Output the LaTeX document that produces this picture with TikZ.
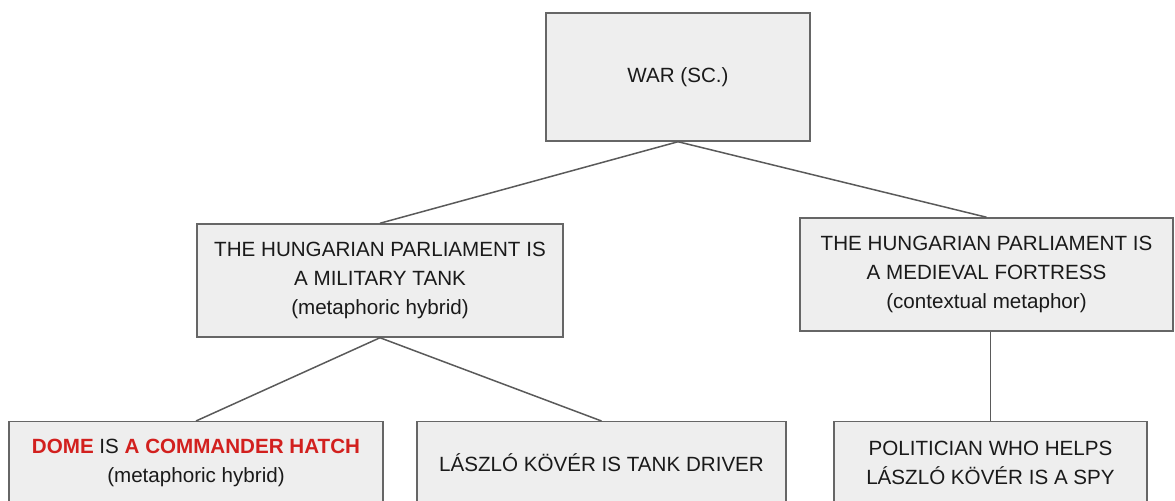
\documentclass[tikz,border=0pt]{standalone}
\usepackage{fontspec}
\setmainfont{Liberation Sans}
\usepackage{xcolor}
\definecolor{boxfill}{RGB}{238,238,238}
\definecolor{boxline}{RGB}{102,102,102}
\definecolor{edgeline}{RGB}{90,90,90}
\definecolor{hatchred}{RGB}{210,32,30}
\definecolor{inktext}{RGB}{26,26,26}

\begin{document}
\begin{tikzpicture}[x=0.5pt,y=-0.5pt,-,line width=0.75pt,
    box node/.style={rectangle,draw=boxline,fill=boxfill,text=inktext,align=center,inner sep=0pt,
        font=\fontsize{10.3}{14.5}\selectfont},
    low node/.style={box node,anchor=north,minimum height=41pt}]
                \useasboundingbox (0,0) rectangle (1175,501);
                \clip (0,0) rectangle (1175,501);

                \node[box node,minimum width=132pt,minimum height=64pt] (1) at (678,77) {WAR (SC.)};
                \node[box node,minimum width=183pt,minimum height=56.5pt] (2) at (380,280.5)
                    {THE HUNGARIAN PARLIAMENT IS\\A MILITARY TANK\\(metaphoric hybrid)};
                \node[box node,minimum width=186.5pt,minimum height=56.5pt] (3) at (986.5,274.5)
                    {THE HUNGARIAN PARLIAMENT IS\\A MEDIEVAL FORTRESS\\(contextual metaphor)};
                \node[low node,minimum width=187pt] (4) at (196,421)
                    {\textcolor{hatchred}{\bfseries DOME} IS \textcolor{hatchred}{\bfseries A COMMANDER HATCH}\\(metaphoric hybrid)};
                \node[low node,minimum width=184.5pt] (5) at (601.5,421) {LÁSZLÓ KÖVÉR IS TANK DRIVER};
                \node[low node,minimum width=156.5pt] (6) at (990.5,421)
                    {POLITICIAN WHO HELPS\\LÁSZLÓ KÖVÉR IS A SPY};

                \path[draw=edgeline]
                    (1.south) edge (2.north)
                    (1.south) edge (3.north)
                    (2.south) edge (4.north)
                    (2.south) edge (5.north)
                    (3.south -| 6.north) edge (6.north)
                ;
            \end{tikzpicture}
\end{document}
